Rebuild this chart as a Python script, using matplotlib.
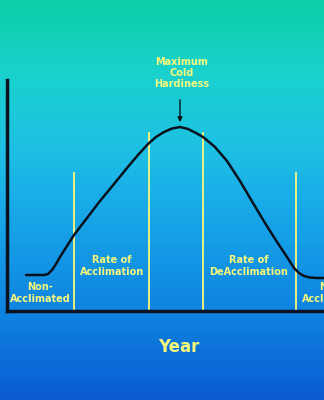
import numpy as np
import matplotlib.pyplot as plt
from matplotlib.colors import LinearSegmentedColormap

# hardiness curve (time in px along x, hardiness up from the axis)
time = [26, 44, 48, 52, 56, 60, 67, 74, 87, 100, 114, 127, 138, 148, 156, 164, 172, 180,
        188, 196, 203, 215, 227, 240, 253, 265, 277, 287, 294, 299, 304, 310, 317, 324]
hardiness = [36, 36, 37, 41, 47, 54, 65, 76, 93, 110, 127, 143, 156, 167, 174, 179, 182.5, 184,
             182, 178, 174, 164, 150, 130, 108, 88, 69, 54, 43, 38, 35, 33.5, 33, 33]

# yellow phase markers
marker_x = [74, 149, 203, 296]
marker_top = [138, 178, 178, 138]

phase_labels = ["Non-\nAcclimated", "Rate of\nAcclimation", "Rate of\nDeAcclimation", "Non-\nAcclimated"]
phase_x = [40, 112, 249, 332]
phase_y = [18, 45, 45, 18]

peak_label = "Maximum\nCold\nHardiness"
yellow = "#f8f87c"
ink = "#08121e"

fig = plt.figure(figsize=(3.24, 4.0), dpi=100)

# background gradient
bg = fig.add_axes([0, 0, 1, 1])
grad_cmap = LinearSegmentedColormap.from_list(
    "slide", [(0.0, "#0ccfa8"), (0.18, "#19d2cc"), (0.37, "#1ec0e4"),
              (0.53, "#18a8e8"), (0.8, "#0e80e0"), (1.0, "#0a5cd0")])
bg.imshow(np.linspace(0, 1, 400).reshape(-1, 1), aspect="auto", cmap=grad_cmap,
          extent=[0, 324, 400, 0])
bg.set_xlim(0, 324)
bg.set_ylim(400, 0)
bg.axis("off")

# main plot axes: left spine at x=7px, bottom spine at y=311px
ax = fig.add_axes([7 / 324, 89 / 400, 1 - 7 / 324, 231 / 400])
ax.patch.set_visible(False)
ax.set_xlim(7, 324)
ax.set_ylim(0, 231)
for s in ["top", "right"]:
    ax.spines[s].set_visible(False)
for s in ["left", "bottom"]:
    ax.spines[s].set_color(ink)
    ax.spines[s].set_linewidth(2.5)
ax.set_xticks([])
ax.set_yticks([])

for mx, mt in zip(marker_x, marker_top):
    ax.plot([mx, mx], [0, mt], color=yellow, lw=1.3, zorder=2)

ax.plot(time, hardiness, color=ink, lw=1.8, zorder=3, solid_capstyle="round",
        solid_joinstyle="round")

for lab, lx, ly in zip(phase_labels, phase_x, phase_y):
    ax.text(lx, ly, lab, color=yellow, fontsize=7, fontweight="bold", ha="center",
            va="center", linespacing=1.15, clip_on=False)

ax.annotate("", xy=(180, 186), xytext=(180, 214), annotation_clip=False,
            arrowprops=dict(arrowstyle="-|>", color=ink, lw=1.0, mutation_scale=7))
ax.text(182, 238, peak_label, color=yellow, fontsize=7, fontweight="bold", ha="center",
        va="center", linespacing=1.15, clip_on=False)

# time arrow below the axis
bg.annotate("", xy=(328, 325), xytext=(29, 325),
            arrowprops=dict(arrowstyle="-|>", color=ink, lw=1.0, mutation_scale=8))
bg.text(179, 347, "Year", color=yellow, fontsize=12, fontweight="bold", ha="center", va="center")

fig.savefig("out.png", dpi=100)
